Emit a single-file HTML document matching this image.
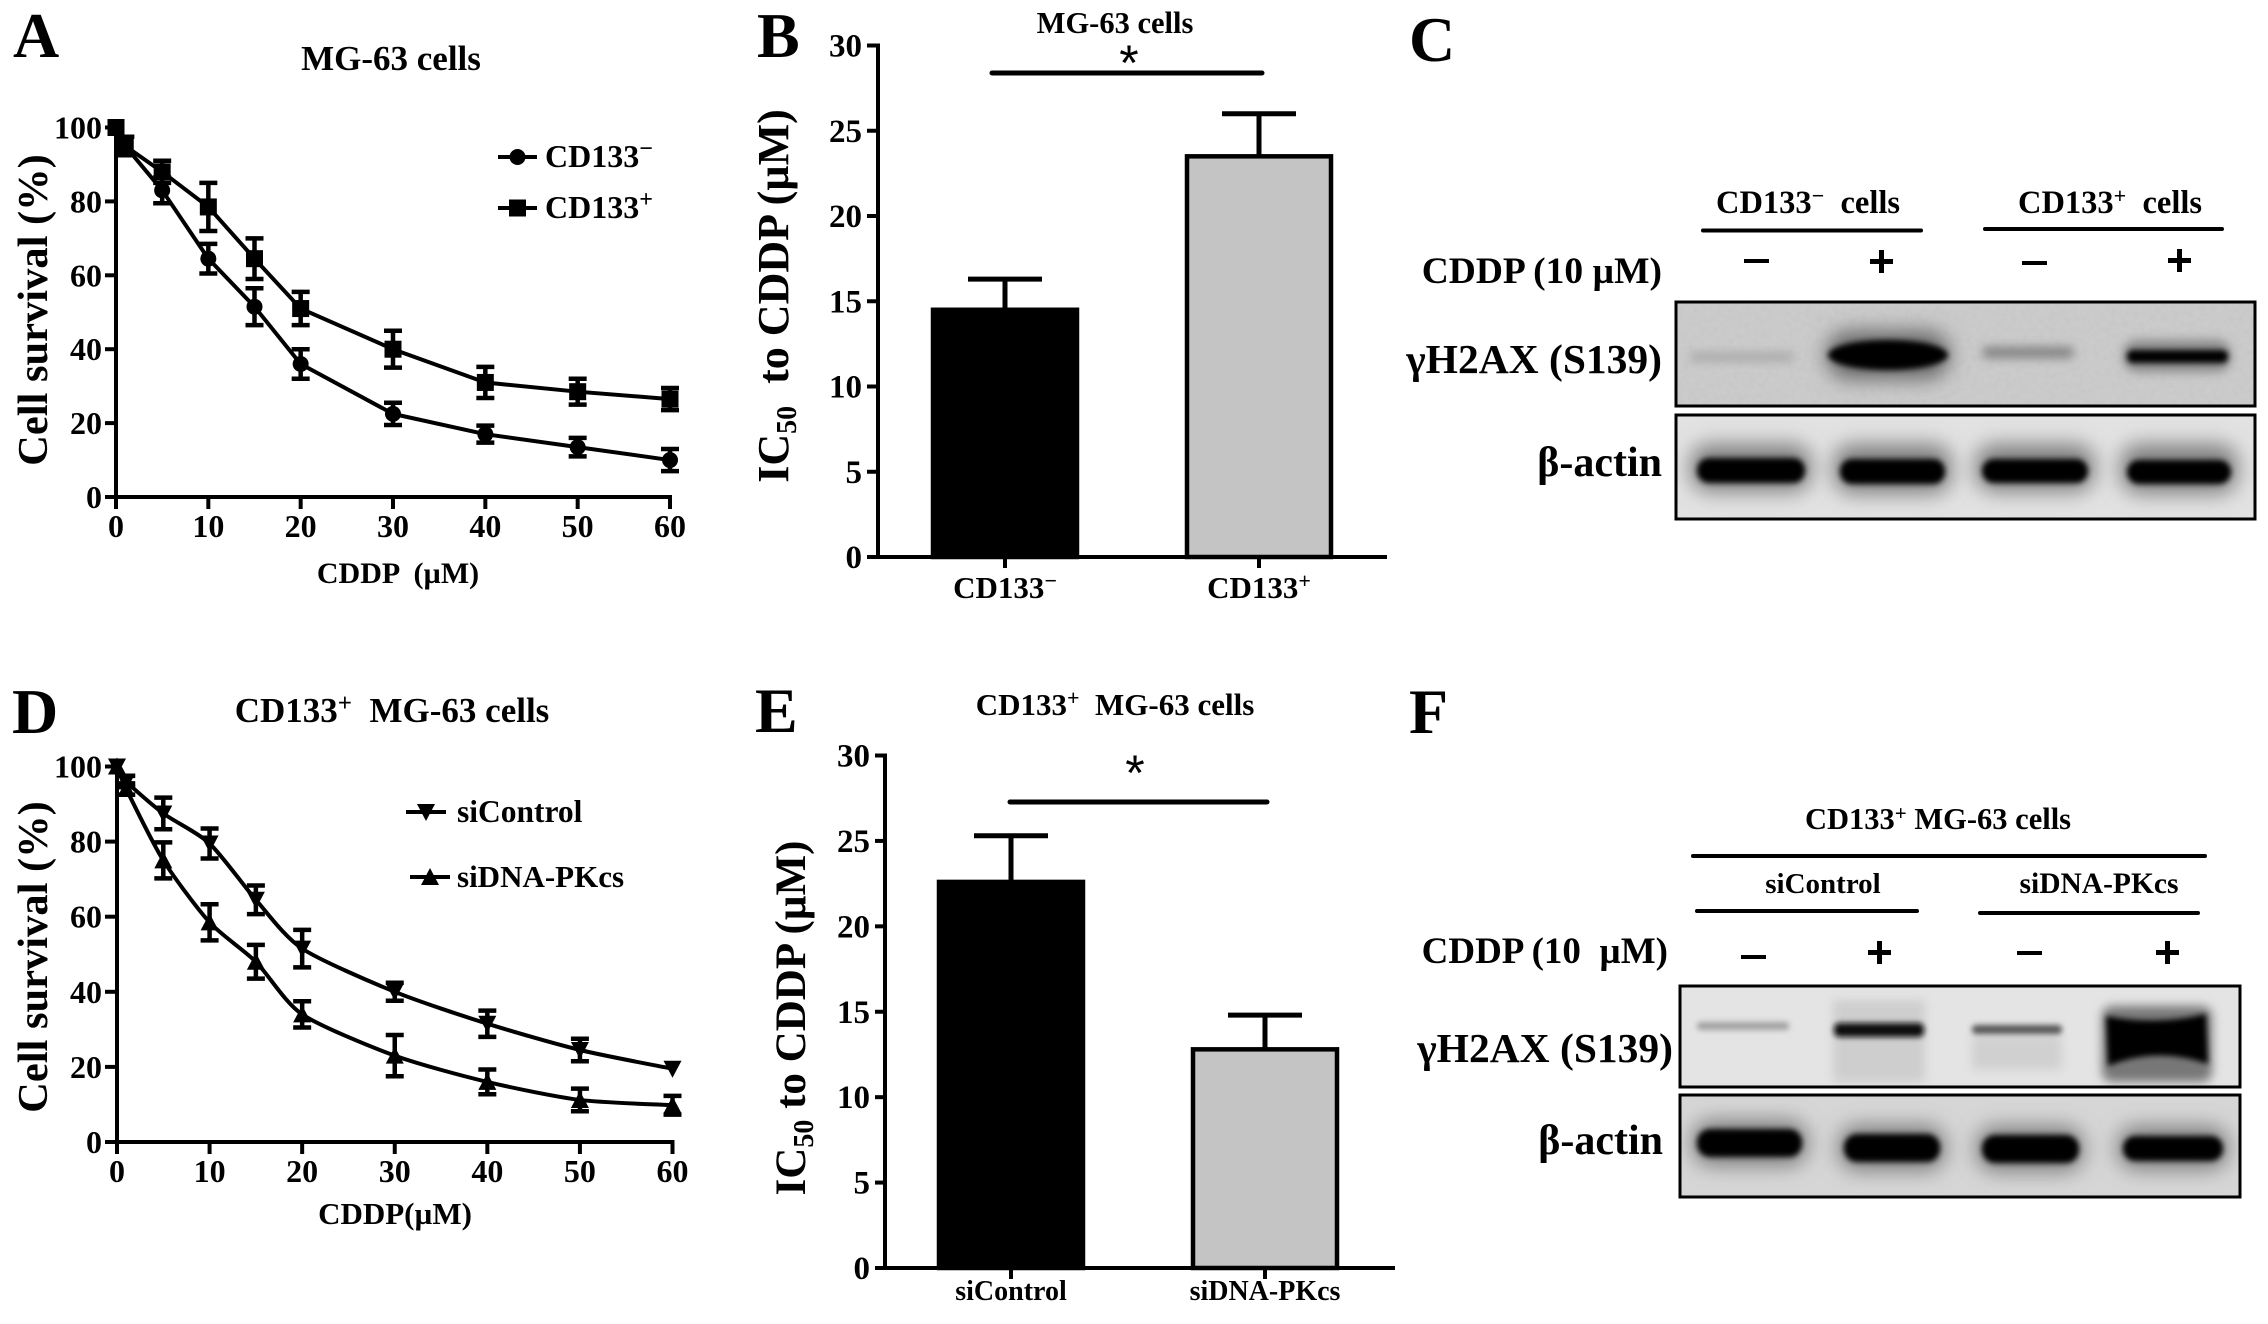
<!DOCTYPE html>
<html lang="en">
<head>
<meta charset="utf-8">
<title>MG-63 cells cisplatin figure</title>
<style>
html,body{margin:0;padding:0;background:#fff;}
svg{display:block;}
text{font-family:"Liberation Serif",serif;font-weight:bold;fill:#000;}
</style>
</head>
<body>
<svg id="figure" xmlns="http://www.w3.org/2000/svg" width="2268" height="1324" viewBox="0 0 2268 1324">
<defs>
<filter id="b2" x="-30%" y="-100%" width="160%" height="300%"><feGaussianBlur stdDeviation="3"/></filter>
<filter id="b5" x="-30%" y="-100%" width="160%" height="300%"><feGaussianBlur stdDeviation="5"/></filter>
<filter id="b9" x="-30%" y="-150%" width="160%" height="400%"><feGaussianBlur stdDeviation="10"/></filter>
<filter id="grain" x="0" y="0" width="100%" height="100%">
  <feTurbulence type="fractalNoise" baseFrequency="0.18" numOctaves="2" seed="7"/>
  <feColorMatrix type="matrix" values="0 0 0 0 0.5  0 0 0 0 0.5  0 0 0 0 0.5  1.6 0 0 0 -0.6"/>
</filter>
<clipPath id="clip-c1"><rect x="1676" y="302" width="579" height="104"/></clipPath>
<clipPath id="clip-c2"><rect x="1676" y="415" width="579" height="104"/></clipPath>
<clipPath id="clip-f1"><rect x="1680" y="986" width="560" height="101"/></clipPath>
<clipPath id="clip-f2"><rect x="1680" y="1095" width="560" height="102"/></clipPath>
</defs>

<!-- Panel letters -->
<text x="13" y="57" font-size="64">A</text>
<text x="757" y="57" font-size="64">B</text>
<text x="1409" y="61" font-size="64">C</text>
<text x="12" y="733" font-size="64">D</text>
<text x="755" y="732" font-size="64">E</text>
<text x="1409" y="733" font-size="64">F</text>

<!-- Panel titles and axis titles -->
<text x="391" y="70" font-size="35" text-anchor="middle">MG-63 cells</text>
<text transform="translate(47,310) rotate(-90)" font-size="42.5" text-anchor="middle">Cell survival (%)</text>
<text x="398" y="583" font-size="30" text-anchor="middle" xml:space="preserve">CDDP  (µM)</text>
<text x="1115" y="33" font-size="30.5" text-anchor="middle">MG-63 cells</text>
<text transform="translate(788,296) rotate(-90)" font-size="44" text-anchor="middle" xml:space="preserve">IC<tspan font-size="28" dy="8">50</tspan><tspan dy="-8">  to CDDP (µM)</tspan></text>
<text x="392" y="722" font-size="35" text-anchor="middle" xml:space="preserve">CD133<tspan font-size="25" dy="-11">+</tspan><tspan dy="11">  MG-63 cells</tspan></text>
<text transform="translate(47,957) rotate(-90)" font-size="42.5" text-anchor="middle">Cell survival (%)</text>
<text x="395" y="1224" font-size="31" text-anchor="middle">CDDP(µM)</text>
<text x="1115" y="715" font-size="31" text-anchor="middle" xml:space="preserve">CD133<tspan font-size="22" dy="-10">+</tspan><tspan dy="10">  MG-63 cells</tspan></text>
<text transform="translate(805,1018) rotate(-90)" font-size="43" text-anchor="middle" xml:space="preserve">IC<tspan font-size="28" dy="8">50</tspan><tspan dy="-8"> to CDDP (µM)</tspan></text>

<!-- Significance markers -->
<line x1="992" y1="73" x2="1262" y2="73" stroke="#000" stroke-width="5" stroke-linecap="round"/>
<text x="1129" y="80" font-size="50" text-anchor="middle" style="font-weight:normal;font-family:'Liberation Sans',sans-serif">*</text>
<line x1="1010" y1="802" x2="1267" y2="802" stroke="#000" stroke-width="5" stroke-linecap="round"/>
<text x="1135" y="790" font-size="50" text-anchor="middle" style="font-weight:normal;font-family:'Liberation Sans',sans-serif">*</text>

<g id="charts"></g>

<!-- Panel C blot -->
<g>
  <text x="1808" y="213" font-size="32.5" text-anchor="middle" xml:space="preserve">CD133<tspan font-size="22" dy="-10">−</tspan><tspan dy="10">  cells</tspan></text>
  <text x="2110" y="213" font-size="32.5" text-anchor="middle" xml:space="preserve">CD133<tspan font-size="22" dy="-10">+</tspan><tspan dy="10">  cells</tspan></text>
  <line x1="1703" y1="230.5" x2="1921" y2="230.5" stroke="#000" stroke-width="4" stroke-linecap="round"/>
  <line x1="1985" y1="229" x2="2222" y2="229" stroke="#000" stroke-width="4" stroke-linecap="round"/>
  <text x="1662" y="283" font-size="37.5" text-anchor="end">CDDP (10 µM)</text>
  <rect x="1744" y="259" width="25" height="4"/>
  <g><rect x="1870" y="259" width="23" height="5"/><rect x="1879" y="250" width="5" height="23"/></g>
  <rect x="2022" y="261" width="25" height="4"/>
  <g><rect x="2168" y="258" width="23" height="5"/><rect x="2177" y="249" width="5" height="23"/></g>
  <text x="1662" y="373" font-size="41.5" text-anchor="end">γH2AX (S139)</text>
  <text x="1662" y="476" font-size="42" text-anchor="end">β-actin</text>

  <rect x="1676" y="302" width="579" height="104" fill="#cbcbcb"/>
  <rect x="1676" y="302" width="579" height="104" filter="url(#grain)" opacity="0.35"/>
  <g clip-path="url(#clip-c1)">
    <rect x="1690" y="353" width="104" height="8" rx="4" fill="#a4a4a4" filter="url(#b5)"/>
    <rect x="1982" y="347" width="92" height="11" rx="5" fill="#808080" filter="url(#b5)"/>
    <rect x="1826" y="331" width="124" height="48" rx="24" fill="#666" filter="url(#b9)"/>
    <ellipse cx="1888" cy="355" rx="60" ry="15" fill="#000" filter="url(#b2)"/>
    <rect x="2123" y="340" width="108" height="32" rx="14" fill="#888" filter="url(#b5)"/>
    <rect x="2127" y="350" width="101" height="13" rx="6" fill="#000" filter="url(#b2)"/>
  </g>
  <rect x="1676" y="302" width="579" height="104" fill="none" stroke="#000" stroke-width="3"/>

  <rect x="1676" y="415" width="579" height="104" fill="#e2e2e2"/>
  <g clip-path="url(#clip-c2)">
    <rect x="1690" y="444" width="122" height="48" rx="20" fill="#808080" filter="url(#b9)"/>
    <rect x="1833" y="444" width="119" height="50" rx="20" fill="#808080" filter="url(#b9)"/>
    <rect x="1975" y="444" width="120" height="48" rx="20" fill="#808080" filter="url(#b9)"/>
    <rect x="2120" y="444" width="118" height="50" rx="20" fill="#808080" filter="url(#b9)"/>
    <rect x="1697" y="458" width="108" height="25" rx="12" fill="#000" filter="url(#b2)"/>
    <rect x="1840" y="459" width="105" height="25" rx="12" fill="#000" filter="url(#b2)"/>
    <rect x="1982" y="459" width="106" height="24" rx="12" fill="#000" filter="url(#b2)"/>
    <rect x="2127" y="460" width="104" height="24" rx="12" fill="#000" filter="url(#b2)"/>
  </g>
  <rect x="1676" y="415" width="579" height="104" fill="none" stroke="#000" stroke-width="3"/>
</g>

<!-- Panel F blot -->
<g>
  <text x="1938" y="829" font-size="30.5" text-anchor="middle">CD133<tspan font-size="21" dy="-9">+</tspan><tspan dy="9"> MG-63 cells</tspan></text>
  <line x1="1693" y1="856" x2="2205" y2="856" stroke="#000" stroke-width="4" stroke-linecap="round"/>
  <text x="1823" y="893" font-size="29" text-anchor="middle">siControl</text>
  <text x="2099" y="893" font-size="29.5" text-anchor="middle">siDNA-PKcs</text>
  <line x1="1697" y1="911" x2="1917" y2="911" stroke="#000" stroke-width="4" stroke-linecap="round"/>
  <line x1="1980" y1="913" x2="2198" y2="913" stroke="#000" stroke-width="4" stroke-linecap="round"/>
  <text x="1668" y="963" font-size="37" text-anchor="end" xml:space="preserve">CDDP (10  µM)</text>
  <rect x="1741" y="955" width="25" height="4"/>
  <g><rect x="1868" y="950" width="23" height="5"/><rect x="1877" y="941" width="5" height="23"/></g>
  <rect x="2017" y="951" width="25" height="4"/>
  <g><rect x="2156" y="950" width="23" height="5"/><rect x="2165" y="941" width="5" height="23"/></g>
  <text x="1673" y="1062" font-size="41.5" text-anchor="end">γH2AX (S139)</text>
  <text x="1663" y="1154" font-size="42" text-anchor="end">β-actin</text>

  <rect x="1680" y="986" width="560" height="101" fill="#e4e4e4"/>
  <g clip-path="url(#clip-f1)">
    <rect x="1697" y="1022" width="92" height="8" rx="3" fill="#a0a0a0" filter="url(#b2)"/>
    <rect x="1833" y="1000" width="92" height="82" fill="#cecece" filter="url(#b5)"/>
    <rect x="1834" y="1023" width="90" height="14" rx="5" fill="#111" filter="url(#b2)"/>
    <rect x="1972" y="1036" width="90" height="34" fill="#d0d0d0" filter="url(#b5)"/>
    <rect x="1972" y="1025" width="90" height="9" rx="4" fill="#555" filter="url(#b2)"/>
    <rect x="2102" y="1006" width="110" height="76" rx="10" fill="#777" filter="url(#b5)"/>
    <path d="M2106 1016 Q2156 1026 2206 1014 L2208 1064 Q2156 1046 2108 1066 Z" fill="#000" filter="url(#b2)"/>
  </g>
  <rect x="1680" y="986" width="560" height="101" fill="none" stroke="#000" stroke-width="3"/>

  <rect x="1680" y="1095" width="560" height="102" fill="#d6d6d6"/>
  <g clip-path="url(#clip-f2)">
    <rect x="1692" y="1120" width="116" height="46" rx="20" fill="#808080" filter="url(#b9)"/>
    <rect x="1838" y="1125" width="108" height="46" rx="20" fill="#808080" filter="url(#b9)"/>
    <rect x="1976" y="1126" width="108" height="46" rx="20" fill="#808080" filter="url(#b9)"/>
    <rect x="2117" y="1126" width="112" height="44" rx="20" fill="#808080" filter="url(#b9)"/>
    <rect x="1697" y="1129" width="105" height="28" rx="13" fill="#000" filter="url(#b2)"/>
    <rect x="1844" y="1134" width="96" height="28" rx="13" fill="#000" filter="url(#b2)"/>
    <rect x="1982" y="1135" width="97" height="28" rx="13" fill="#000" filter="url(#b2)"/>
    <rect x="2123" y="1136" width="100" height="25" rx="12" fill="#000" filter="url(#b2)"/>
  </g>
  <rect x="1680" y="1095" width="560" height="102" fill="none" stroke="#000" stroke-width="3"/>
</g>
</svg>

<script>
/* ---------- chart data ---------- */
const doses = [0, 1, 5, 10, 15, 20, 30, 40, 50, 60];
const doseTicks = [0, 10, 20, 30, 40, 50, 60];
const survivalTicks = [0, 20, 40, 60, 80, 100];
const ic50Ticks = [0, 5, 10, 15, 20, 25, 30];

const panelANegValues = [100, 95, 83, 64.5, 51.5, 36, 22.5, 17, 13.5, 10];
const panelANegErrors = [0, 2.5, 3.5, 4, 5, 4, 3, 2.3, 2.5, 3];
const panelAPosValues = [100, 95, 88, 78.5, 64.5, 51, 40, 31, 28.5, 26.5];
const panelAPosErrors = [0, 2.5, 3, 6.5, 5.5, 4.5, 5, 4.2, 3.5, 3];

const panelDControlValues = [100, 96, 87.5, 79.5, 64.5, 51.5, 40, 31.5, 24.5, 19.5];
const panelDControlErrors = [0, 1.5, 4.2, 4, 3.8, 5, 2.4, 3.5, 3, 0];
const panelDKnockdownValues = [100, 94, 75, 58.5, 48, 34, 23, 16, 11.2, 9.8];
const panelDKnockdownErrors = [0, 1.5, 4.8, 4.8, 4.5, 3.5, 5.5, 3.3, 3, 2.5];

const panelBCategories = ["CD133−", "CD133+"];
const panelBValues = [14.5, 23.5];
const panelBErrors = [1.8, 2.5];

const panelECategories = ["siControl", "siDNA-PKcs"];
const panelEValues = [22.6, 12.8];
const panelEErrors = [2.7, 2.0];

/* ---------- helpers ---------- */
const NS = "http://www.w3.org/2000/svg";
const root = document.getElementById("charts");
function make(tag, attrs, parent) {
  const el = document.createElementNS(NS, tag);
  for (const k in attrs) el.setAttribute(k, attrs[k]);
  (parent || root).appendChild(el);
  return el;
}
function linear(d0, d1, r0, r1) {
  return function (v) { return r0 + (v - d0) * (r1 - r0) / (d1 - d0); };
}
function smoothPath(pts) {
  let d = "M" + pts[0][0] + " " + pts[0][1];
  for (let i = 0; i < pts.length - 1; i++) {
    const p0 = pts[Math.max(i - 1, 0)], p1 = pts[i], p2 = pts[i + 1], p3 = pts[Math.min(i + 2, pts.length - 1)];
    const c1x = p1[0] + (p2[0] - p0[0]) / 8, c1y = p1[1] + (p2[1] - p0[1]) / 8;
    const c2x = p2[0] - (p3[0] - p1[0]) / 8, c2y = p2[1] - (p3[1] - p1[1]) / 8;
    d += " C" + c1x + " " + c1y + " " + c2x + " " + c2y + " " + p2[0] + " " + p2[1];
  }
  return d;
}
function drawMarker(kind, x, y, parent) {
  if (kind === "circle") return make("circle", { cx: x, cy: y, r: 8 }, parent);
  if (kind === "square") return make("rect", { x: x - 8.5, y: y - 8.5, width: 17, height: 17 }, parent);
  if (kind === "down") return make("polygon", { points: (x - 9) + "," + (y - 8) + " " + (x + 9) + "," + (y - 8) + " " + x + "," + (y + 9) }, parent);
  return make("polygon", { points: (x - 9) + "," + (y + 8) + " " + (x + 9) + "," + (y + 8) + " " + x + "," + (y - 9) }, parent);
}

function drawLinePanel(id, xs, ys, axisLeft, axisBottom, series) {
  const g = make("g", {});
  
  
  const yAxis = make("line", { x1: xs(0), y1: ys(100) - 2, x2: xs(0), y2: axisBottom + 2, stroke: "#000", "stroke-width": 4 }, g);
  
  
  const xAxis = make("line", { x1: axisLeft, y1: axisBottom, x2: xs(60) + 2, y2: axisBottom, stroke: "#000", "stroke-width": 4 }, g);
  
  
  survivalTicks.forEach(function (t) {
    const tk = make("line", { x1: axisLeft, y1: ys(t), x2: xs(0), y2: ys(t), stroke: "#000", "stroke-width": 4 }, g);
    
    
    const lb = make("text", { x: axisLeft - 3, y: ys(t) + 11, "font-size": 32, "text-anchor": "end" }, g);
    lb.textContent = t;
    
    
  });
  doseTicks.forEach(function (t) {
    const tk = make("line", { x1: xs(t), y1: axisBottom, x2: xs(t), y2: axisBottom + 12, stroke: "#000", "stroke-width": 4 }, g);
    
    
    const lb = make("text", { x: xs(t), y: axisBottom + 40, "font-size": 32, "text-anchor": "middle" }, g);
    lb.textContent = t;
    
    
  });
  series.forEach(function (s) {
    const pts = doses.map(function (d, i) { return [xs(d), ys(s.values[i])]; });
    const d = s.smooth ? smoothPath(pts) : "M" + pts.map(function (p) { return p.join(" "); }).join(" L");
    const path = make("path", { d: d, fill: "none", stroke: "#000", "stroke-width": 4, "stroke-linejoin": "round" }, g);
    
    
    doses.forEach(function (dose, i) {
      const x = xs(dose), v = s.values[i], e = s.errors[i];
      if (e > 0) {
        const bar = make("path", {
          d: "M" + x + " " + ys(v + e) + " L" + x + " " + ys(v - e) +
             " M" + (x - 9) + " " + ys(v + e) + " L" + (x + 9) + " " + ys(v + e) +
             " M" + (x - 9) + " " + ys(v - e) + " L" + (x + 9) + " " + ys(v - e),
          fill: "none", stroke: "#000", "stroke-width": 4.5
        }, g);
        
        
      }
      const mk = drawMarker(s.marker, x, ys(v), g);
      
      
    });
  });
}

function drawLegendEntry(id, key, label, sup, kind, x1, x2, y, textX, size) {
  const g = make("g", {});
  
  
  make("line", { x1: x1, y1: y, x2: x2, y2: y, stroke: "#000", "stroke-width": 4 }, g);
  drawMarker(kind, (x1 + x2) / 2, y, g);
  const t = make("text", { x: textX, y: y + 10, "font-size": size }, g);
  t.textContent = label;
  if (sup) {
    const s = make("tspan", { dy: -11, "font-size": 24 }, t);
    s.textContent = sup;
  }
}

function drawBarPanel(id, ys, axisX, axisLeft, axisRight, axisBottom, barLefts, barWidth, categories, values, errors, labelSize, labelY) {
  const g = make("g", {});
  
  
  values.forEach(function (v, i) {
    const cx = barLefts[i] + barWidth / 2;
    const err = make("path", {
      d: "M" + cx + " " + ys(v) + " L" + cx + " " + ys(v + errors[i]) +
         " M" + (cx - 37) + " " + ys(v + errors[i]) + " L" + (cx + 37) + " " + ys(v + errors[i]),
      fill: "none", stroke: "#000", "stroke-width": 5
    }, g);
    
    
    const fill = i === 0 ? "#000" : "#c4c4c4";
    const r = make("rect", { x: barLefts[i] + 2, y: ys(v), width: barWidth - 4, height: axisBottom - ys(v), fill: fill, stroke: "#000", "stroke-width": 4.5 }, g);
    
    
    const tk = make("line", { x1: cx, y1: axisBottom, x2: cx, y2: axisBottom + 11, stroke: "#000", "stroke-width": 4 }, g);
    
    
    const base = categories[i].replace(/[−+]$/, "");
    const sup = categories[i].slice(base.length);
    const lb = make("text", { x: cx, y: labelY, "font-size": labelSize, "text-anchor": "middle" }, g);
    lb.textContent = base;
    if (sup) {
      const s = make("tspan", { dy: -10, "font-size": 22 }, lb);
      s.textContent = sup;
    }
    
    
  });
  const yAxis = make("line", { x1: axisX, y1: ys(30) - 2, x2: axisX, y2: axisBottom + 2, stroke: "#000", "stroke-width": 4 }, g);
  
  
  const xAxis = make("line", { x1: axisLeft, y1: axisBottom, x2: axisRight, y2: axisBottom, stroke: "#000", "stroke-width": 4 }, g);
  
  
  ic50Ticks.forEach(function (t) {
    const tk = make("line", { x1: axisLeft, y1: ys(t), x2: axisX, y2: ys(t), stroke: "#000", "stroke-width": 4 }, g);
    
    
    const lb = make("text", { x: axisLeft - 5, y: ys(t) + 11, "font-size": 33, "text-anchor": "end" }, g);
    lb.textContent = t;
    
    
  });
}

/* ---------- panels ---------- */
drawLinePanel("panel-a", linear(0, 60, 116, 670), linear(0, 100, 497, 127.5), 105, 497, [
  { key: "cd133-neg", values: panelANegValues, errors: panelANegErrors, marker: "circle", smooth: false },
  { key: "cd133-pos", values: panelAPosValues, errors: panelAPosErrors, marker: "square", smooth: false }
]);
drawLegendEntry("panel-a", "cd133-neg", "CD133", "−", "circle", 498, 537, 157, 545, 32);
drawLegendEntry("panel-a", "cd133-pos", "CD133", "+", "square", 498, 537, 208, 545, 32);

drawLinePanel("panel-d", linear(0, 60, 117, 672.5), linear(0, 100, 1142, 766.5), 105, 1142, [
  { key: "sicontrol", values: panelDControlValues, errors: panelDControlErrors, marker: "down", smooth: true },
  { key: "sidna-pkcs", values: panelDKnockdownValues, errors: panelDKnockdownErrors, marker: "up", smooth: true }
]);
drawLegendEntry("panel-d", "sicontrol", "siControl", "", "down", 406, 446, 812, 457, 31.5);
drawLegendEntry("panel-d", "sidna-pkcs", "siDNA-PKcs", "", "up", 410, 450, 877, 457, 31);

drawBarPanel("panel-b", linear(0, 30, 557, 45.5), 878, 867, 1387, 557, [931, 1185], 148, panelBCategories, panelBValues, panelBErrors, 31, 598);
drawBarPanel("panel-e", linear(0, 30, 1268, 755.5), 885, 875, 1395, 1268, [937, 1191], 148, panelECategories, panelEValues, panelEErrors, 28, 1300);
</script>
</body>
</html>
